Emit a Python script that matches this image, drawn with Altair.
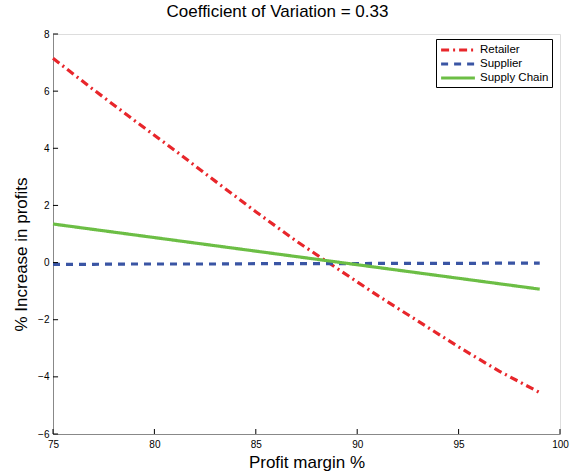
import altair as alt
import pandas as pd

# Data
margin = [75, 77, 79, 81, 83, 85, 87, 89, 91, 93, 95, 97, 99]
retailer = [7.15, 6.05, 4.98, 3.93, 2.85, 1.78, 0.75, -0.20, -1.15, -2.05, -2.95, -3.80, -4.55]
supplier = [-0.06, -0.06, -0.05, -0.05, -0.05, -0.04, -0.04, -0.04, -0.03, -0.03, -0.03, -0.02, -0.02]
supply_chain = [1.35, 1.16, 0.97, 0.78, 0.59, 0.40, 0.21, 0.02, -0.17, -0.36, -0.55, -0.74, -0.93]

series_names = ["Retailer", "Supplier", "Supply Chain"]
series_colors = ["#E8262B", "#3A55A4", "#6CBE45"]
series_dash = [[8, 4, 2, 4], [7, 6], [1, 0]]

x_ticks = [75, 80, 85, 90, 95, 100]
y_ticks = [-6, -4, -2, 0, 2, 4, 6, 8]

rows = []
for name, vals in zip(series_names, [retailer, supplier, supply_chain]):
    for m, v in zip(margin, vals):
        rows.append({"margin": m, "value": v, "series": name})
df = pd.DataFrame(rows)

FONT = "Liberation Sans"

xscale = alt.Scale(domain=[75, 100], nice=False, zero=False)
yscale = alt.Scale(domain=[-6, 8], nice=False, zero=False)

xaxis = alt.Axis(values=x_ticks, title="Profit margin %", tickSize=0, grid=False,
                 labelFlush=False, labelPadding=5, titleY=33,
                 titleBaseline="alphabetic",
                 titleFontSize=17, titleFontWeight="normal")
yaxis = alt.Axis(values=y_ticks, title="% Increase in profits", tickSize=0,
                 grid=False, labelFlush=False,
                 labelPadding=4, titleX=-27, titleY=220,
                 titleBaseline="alphabetic", titleAlign="center",
                 titleFontSize=17, titleFontWeight="normal")

lines = alt.Chart(df).mark_line(strokeWidth=3.2).encode(
    x=alt.X("margin:Q", scale=xscale, axis=xaxis),
    y=alt.Y("value:Q", scale=yscale, axis=yaxis),
    color=alt.Color("series:N",
                    scale=alt.Scale(domain=series_names, range=series_colors),
                    legend=alt.Legend(title=None, orient="none", legendX=383, legendY=5,
                                      strokeColor="black", fillColor="white",
                                      padding=3, rowPadding=0, labelFontSize=11.5,
                                      labelFont=FONT, labelColor="black",
                                      symbolType="M-2.6,0H2.6",
                                      symbolSize=169, symbolStrokeWidth=3,
                                      symbolOffset=11, labelOffset=14)),
    strokeDash=alt.StrokeDash("series:N",
                              scale=alt.Scale(domain=series_names, range=series_dash),
                              legend=None),
)

ytick_df = pd.DataFrame({"y": y_ticks, "x0": [75] * len(y_ticks), "x1": [75.25] * len(y_ticks)})
xtick_df = pd.DataFrame({"x": x_ticks, "y0": [-6] * len(x_ticks), "y1": [-5.825] * len(x_ticks)})

yticks = alt.Chart(ytick_df).mark_rule(color="black", strokeWidth=1).encode(
    x=alt.X("x0:Q", scale=xscale, axis=xaxis), x2="x1:Q",
    y=alt.Y("y:Q", scale=yscale, axis=yaxis))
xticks = alt.Chart(xtick_df).mark_rule(color="black", strokeWidth=1).encode(
    x=alt.X("x:Q", scale=xscale, axis=xaxis),
    y=alt.Y("y0:Q", scale=yscale, axis=yaxis), y2="y1:Q")

chart = alt.layer(lines, yticks, xticks).properties(
    width=507, height=400,
    autosize=alt.AutoSizeParams(type="none"),
    padding={"left": 53, "top": 34, "right": 19, "bottom": 37},
    title=alt.TitleParams("Coefficient of Variation = 0.33", font=FONT, fontSize=17,
                          fontWeight="normal", color="black", anchor="middle",
                          dx=-29, offset=8),
).configure_view(stroke=None).configure_axis(
    domainColor="black", labelFont=FONT, titleFont=FONT, labelFontSize=11,
    labelColor="black", titleColor="black", grid=False,
).configure(background="white")

chart.save("out.html", embed_options={"renderer": "svg", "actions": False})
